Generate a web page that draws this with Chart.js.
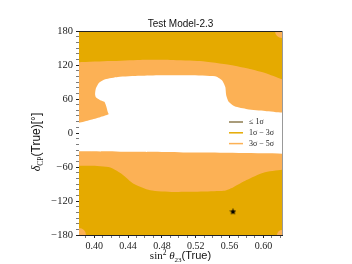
<!DOCTYPE html>
<html>
<head>
<meta charset="utf-8">
<script src="https://cdn.jsdelivr.net/npm/chart.js@4.4.0/dist/chart.umd.min.js"></script>
<style>
html, body { margin: 0; padding: 0; background: #fff; }
#wrap { width: 352px; height: 264px; }
</style>
</head>
<body>
<div id="wrap"><canvas id="myChart" width="352" height="264"></canvas></div>
<script>
// axis ranges and labelled ticks
const xRange = [0.382, 0.622];
const yRange = [-180, 180];
const xMajorTicks = [0.40, 0.44, 0.48, 0.52, 0.56, 0.60];
const yMajorTicks = [-180, -120, -60, 0, 60, 120, 180];

// whole plane (1sigma - 3sigma)
const fullX = [0.37, 0.63, 0.63, 0.37];
const fullY = [-190, -190, 190, 190];

// 3sigma - 5sigma band: upper edge left->right, lower edge right->left
const bandX = [0.37, 0.382, 0.419, 0.454, 0.490, 0.525, 0.561, 0.584, 0.602, 0.622, 0.635,
               0.635, 0.622, 0.600, 0.580, 0.564, 0.553, 0.494, 0.466, 0.446, 0.434, 0.419, 0.395, 0.382, 0.372];
const bandY = [125, 125, 127, 129, 129, 127, 120, 113, 106, 95, 90,
               -64, -65, -70, -83, -96, -102, -104, -101, -89, -74, -61, -58, -58, -58];

// excluded (> 5sigma) region: upper edge right->left, lower edge left->right
const whiteX = [0.635, 0.622, 0.602, 0.581, 0.566, 0.559, 0.556, 0.555, 0.551, 0.543, 0.513, 0.478, 0.454,
                0.428, 0.413, 0.406, 0.402, 0.401, 0.402, 0.407, 0.412, 0.414, 0.416, 0.417, 0.407, 0.395, 0.382, 0.37,
                0.372, 0.382, 0.45, 0.52, 0.622, 0.633];
const whiteY = [35, 36, 39, 42, 47, 55, 67, 81, 93, 100, 102, 102, 101,
                99, 95, 89, 79, 69, 63, 58, 55, 48, 37, 33, 28, 23, 18, 16,
                -32, -32, -33, -34.5, -36.5, -36.5];

// small 3sigma - 5sigma patches in the corners
const cornerX = [0.622, 0.382, 0.622];
const cornerY = [180, -180, -180];
const cornerR = [7, 7, 5];

// true point
const starX = [0.564];
const starY = [-139];

const legendLabels = ['\u2264 1\u03c3', '1\u03c3 \u2212 3\u03c3', '3\u03c3 \u2212 5\u03c3'];
const legendColors = ['#8c7b4f', '#e5aa00', '#fcb155'];

const gold = '#e5aa00';
const orange = '#fcb155';

function pts(xs, ys) {
  return xs.map((x, i) => ({x: x, y: ys[i]}));
}

function makeStar(size) {
  const c = document.createElement('canvas');
  c.width = c.height = size;
  const g = c.getContext('2d');
  const R = size / 2, r = R * 0.45;
  g.beginPath();
  for (let i = 0; i < 10; i++) {
    const a = -Math.PI / 2 + i * Math.PI / 5;
    const rad = i % 2 ? r : R;
    g.lineTo(R + rad * Math.cos(a), R + rad * Math.sin(a));
  }
  g.closePath();
  g.fillStyle = '#000';
  g.fill();
  return c;
}

const isMajor = (list, v) => list.some(m => Math.abs(m - v) < 1e-6);

function drawRuns(ctx, runs, cx, y) {
  let w = 0;
  runs.forEach(r => { ctx.font = r.f; w += ctx.measureText(r.t).width; });
  let x = cx - w / 2;
  ctx.textAlign = 'left';
  ctx.textBaseline = 'alphabetic';
  runs.forEach(r => {
    ctx.font = r.f;
    ctx.fillText(r.t, x, y + (r.dy || 0));
    x += ctx.measureText(r.t).width;
  });
}

const decor = {
  id: 'decor',
  afterDraw(chart) {
    const {ctx, chartArea: a} = chart;
    ctx.save();
    // top and right spines
    ctx.lineWidth = 1;
    ctx.strokeStyle = '#222';
    ctx.beginPath();
    ctx.moveTo(a.left, a.top + 0.5);
    ctx.lineTo(a.right, a.top + 0.5);
    ctx.stroke();
    ctx.strokeStyle = '#999';
    ctx.beginPath();
    ctx.moveTo(a.right + 0.5, a.top);
    ctx.lineTo(a.right + 0.5, a.bottom);
    ctx.stroke();

    ctx.fillStyle = '#111';
    // title
    ctx.font = '10px "Liberation Sans"';
    ctx.textAlign = 'center';
    ctx.textBaseline = 'alphabetic';
    ctx.fillText('Test Model-2.3', (a.left + a.right) / 2, a.top - 4);

    // x title
    drawRuns(ctx, [
      {t: 'sin', f: '11px "Liberation Serif"'},
      {t: '2', f: '7.5px "Liberation Serif"', dy: -4.5},
      {t: ' \u03b8', f: 'italic 11px "Liberation Serif"'},
      {t: '23', f: '7px "Liberation Serif"', dy: 2.5},
      {t: '(True)', f: '11px "Liberation Sans"'}
    ], (a.left + a.right) / 2, a.bottom + 24);

    // y title
    ctx.save();
    ctx.translate(a.left - 39, 142);
    ctx.rotate(-Math.PI / 2);
    drawRuns(ctx, [
      {t: '\u03b4', f: 'italic 12px "Liberation Serif"'},
      {t: 'CP', f: '7.5px "Liberation Serif"', dy: 2.5},
      {t: '(True)[\u00b0]', f: '12px "Liberation Sans"'}
    ], 0, 0);
    ctx.restore();

    // legend
    ctx.font = '8px "Liberation Serif"';
    ctx.textAlign = 'left';
    ctx.textBaseline = 'middle';
    legendLabels.forEach((lab, i) => {
      const y = a.top + 91 + i * 10.8;
      ctx.strokeStyle = legendColors[i];
      ctx.lineWidth = 1.5;
      ctx.beginPath();
      ctx.moveTo(a.left + 150, y);
      ctx.lineTo(a.left + 164, y);
      ctx.stroke();
      ctx.fillStyle = '#222';
      ctx.fillText(lab, a.left + 170, y);
    });
    ctx.restore();
  }
};

const region = (data, color, order) => ({
  type: 'line',
  data: data,
  backgroundColor: color,
  borderColor: color,
  borderWidth: 0,
  pointRadius: 0,
  tension: 0.2,
  fill: 'shape',
  order: order
});

new Chart(document.getElementById('myChart').getContext('2d'), {
  data: {
    datasets: [
      region(pts(fullX, fullY), gold, 6),
      region(pts(bandX, bandY), orange, 5),
      region(pts(whiteX, whiteY), '#ffffff', 4),
      {
        type: 'bubble',
        data: cornerX.map((x, i) => ({x: x, y: cornerY[i], r: cornerR[i]})),
        backgroundColor: orange,
        borderWidth: 0,
        clip: 0,
        order: 3
      },
      {
        type: 'scatter',
        data: pts(starX, starY),
        pointStyle: makeStar(7),
        order: 1
      }
    ]
  },
  options: {
    responsive: false,
    animation: false,
    events: [],
    layout: { padding: { left: 0, right: 70, top: 31, bottom: 0 } },
    plugins: {
      legend: { display: false },
      tooltip: { enabled: false }
    },
    scales: {
      x: {
        type: 'linear',
        min: xRange[0],
        max: xRange[1],
        afterBuildTicks: s => {
          const t = [];
          for (let k = 39; k <= 62; k++) t.push({value: k / 100});
          s.ticks = t;
        },
        afterFit: s => { s.height = 29; },
        ticks: {
          autoSkip: false,
          maxRotation: 0,
          padding: 2,
          color: '#222',
          font: { family: 'Liberation Serif', size: 10 },
          callback: v => isMajor(xMajorTicks, v) ? v.toFixed(2) : ''
        },
        grid: {
          drawOnChartArea: false,
          tickLength: 3,
          tickColor: '#222',
          tickWidth: c => isMajor(xMajorTicks, c.tick.value) ? 1 : 0.6
        },
        border: { color: '#222', width: 1 }
      },
      y: {
        type: 'linear',
        min: yRange[0],
        max: yRange[1],
        afterBuildTicks: s => {
          const t = [];
          for (let v = yRange[0]; v <= yRange[1]; v += 10) t.push({value: v});
          s.ticks = t;
        },
        afterFit: s => { s.width = 79; },
        ticks: {
          autoSkip: false,
          padding: 3,
          color: '#222',
          font: { family: 'Liberation Serif', size: 10.5 },
          callback: v => isMajor(yMajorTicks, v) ? (v < 0 ? '\u2212' + Math.abs(v) : String(v)) : ''
        },
        grid: {
          drawOnChartArea: false,
          tickLength: 3,
          tickColor: '#222',
          tickWidth: c => isMajor(yMajorTicks, c.tick.value) ? 1 : 0.6
        },
        border: { color: '#222', width: 1 }
      }
    }
  },
  plugins: [decor]
});
</script>
</body>
</html>
